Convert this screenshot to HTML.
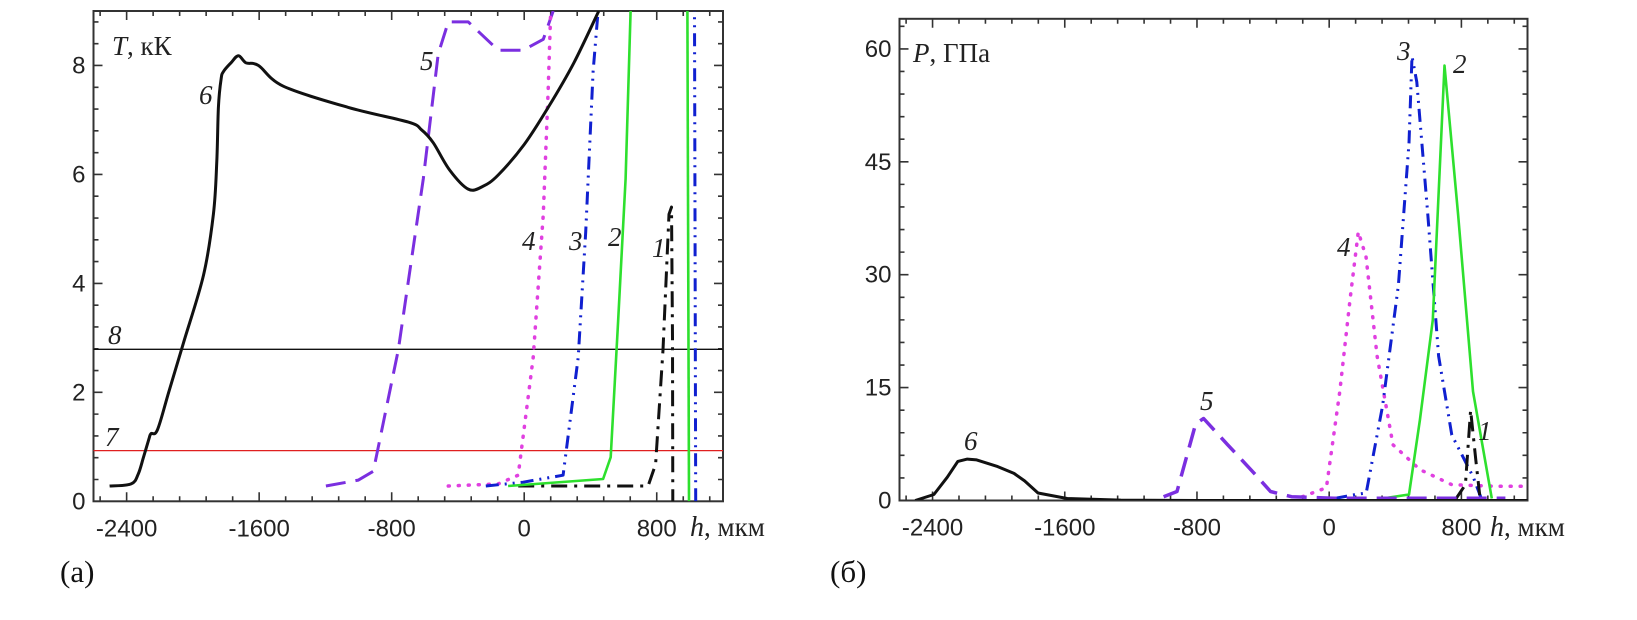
<!DOCTYPE html>
<html><head><meta charset="utf-8">
<style>
html,body{margin:0;padding:0;background:#fff;}
svg{display:block;}
.tk{font-family:"Liberation Sans",sans-serif;font-size:24px;fill:#222;}
.it{font-family:"Liberation Serif",serif;font-style:italic;font-size:27px;fill:#222;}
.sr{font-family:"Liberation Serif",serif;font-size:27px;fill:#222;}
.cap{font-family:"Liberation Serif",serif;font-size:31px;fill:#111;}
</style></head>
<body>
<svg id="fig" width="1637" height="620" viewBox="0 0 1637 620" xmlns="http://www.w3.org/2000/svg">
<g id="chartA"></g>
<g id="chartB"></g>
<text class="cap" x="60" y="582">(a)</text>
<text class="cap" x="830" y="582">(б)</text>
</svg>
<script>
// ---------- data: chart (a) temperature ----------
const xTicks = [-2400, -1600, -800, 0, 800];
const yTicksA = [0, 2, 4, 6, 8];
const yTicksB = [0, 15, 30, 45, 60];
const a6h = [-2503,-2373,-2330,-2298,-2265,-2253,-2214,-2147,-2057,-1936,-1876,-1856,-1846,-1830,-1815,-1770,-1725,-1680,-1604,-1454,-1062,-700,-620,-549,-450,-338,-250,-157,0,145,300,450];
const a6T = [0.28,0.32,0.5,0.81,1.15,1.24,1.31,1.99,2.91,4.15,5.27,6.2,7.23,7.75,7.89,8.05,8.18,8.05,8.0,7.62,7.23,6.96,6.82,6.58,6.08,5.73,5.78,5.99,6.55,7.23,8.05,9.0];
const a5h = [-1197,-1001,-911,-760,-609,-519,-458,-338,-157,-6,115,175];
const a5T = [0.28,0.39,0.55,2.78,5.92,8.21,8.8,8.8,8.28,8.28,8.48,9.0];
const a4h = [-458,-157,-36,54,115,145,160];
const a4T = [0.28,0.32,0.48,2.64,5.27,7.56,9.0];
const a3h = [-232,-6,235,326,371,416,446];
const a3T = [0.28,0.35,0.48,2.64,4.94,7.89,9.0];
const a3bh = [1035,1028];
const a3bT = [0,9];
const a2h = [-97,476,522,567,612,642];
const a2T = [0.28,0.41,0.81,3.3,5.92,9.0];
const a2bh = [995,985];
const a2bT = [0,9];
const a1h = [-36,748,793,838,874,889,895,897];
const a1T = [0.28,0.28,0.68,2.78,5.27,5.4,3.0,0];
const line8T = 2.79;
const line7T = 0.93;
// ---------- data: chart (б) pressure ----------
const b6h = [-2505,-2392,-2311,-2247,-2190,-2133,-2006,-1907,-1843,-1762,-1585,-1261,-800,0,600,1200];
const b6P = [0,0.8,3.1,5.2,5.5,5.4,4.5,3.6,2.6,1.0,0.27,0.05,0,0,0,0];
const b5h = [-1002,-921,-808,-760,-614,-453,-355,-228,30,357,700,1066];
const b5P = [0.5,1.2,10.2,10.9,7.4,3.6,1.2,0.5,0.3,0.3,0.3,0.3];
const b4h = [-162,-17,64,128,176,223,290,386,549,742,1002,1165];
const b4P = [0.5,1.7,14.5,27,35.7,32.4,19.2,7.4,4.1,2.1,1.9,1.9];
const b3h = [31,161,224,323,419,483,501,530,597,662,742,872,920];
const b3P = [0.27,0.8,1.0,12.6,28.6,47.5,59,55.6,38,19.2,8.7,3.1,0.3];
const b2h = [323,483,549,627,698,780,870,984];
const b2P = [0.27,0.8,10.7,24,57.8,38,14.5,0.27];
const b1h = [760,824,856,887,911];
const b1P = [0,2.1,12,5.4,0.7];

const NS = "http://www.w3.org/2000/svg";
function mk(parent, tag, attrs){
  const el = document.createElementNS(NS, tag);
  for (const k in attrs) el.setAttribute(k, attrs[k]);
  parent.appendChild(el);
  return el;
}
function makeAxes(g, L, R, T, B, xmin, xmax, ymin, ymax, yMajor, yMinorStep, yTicks){
  const sx = h => L + (h - xmin) / (xmax - xmin) * (R - L);
  const sy = v => B - (v - ymin) / (ymax - ymin) * (B - T);
  const frame = mk(g, "rect", {x:L, y:T, width:R-L, height:B-T, fill:"none", stroke:"#333", "stroke-width":2});
  
  
  let d = "";
  for (let h = -2560; h <= xmax; h += 160) {
    const x = sx(h);
    if (x < L + 1 || x > R - 1) continue;
    const len = (h % 800 === 0) ? 9 : 5;
    d += `M${x},${B}v${-len}M${x},${T}v${len}`;
  }
  for (let v = ymin; v <= ymax + 1e-6; v += yMinorStep) {
    const y = sy(v);
    if (y < T + 1 || y > B - 1) continue;
    const isMaj = Math.abs(v / yMajor - Math.round(v / yMajor)) < 1e-6;
    const len = isMaj ? 9 : 5;
    d += `M${L},${y}h${len}M${R},${y}h${-len}`;
  }
  const ticks = mk(g, "path", {d:d, stroke:"#333", "stroke-width":1.6, fill:"none"});
  
  
  xTicks.forEach(h => {
    const t = mk(g, "text", {x:sx(h), y:B+35, "text-anchor":"middle", class:"tk"});
    t.textContent = h;
    
    
  });
  yTicks.forEach(v => {
    const t = mk(g, "text", {x:L-8, y:sy(v)+8, "text-anchor":"end", class:"tk"});
    t.textContent = v;
    
    
  });
  return {sx, sy};
}
function series(g, ax, xs, ys, color, w, dash, name, smooth){
  const P = xs.map((h, i) => [ax.sx(h), ax.sy(ys[i])]);
  let d = "M" + P[0][0].toFixed(1) + "," + P[0][1].toFixed(1);
  for (let i = 1; i < P.length; i++) {
    if (smooth) {
      const p0 = P[i-2] || P[i-1], p1 = P[i-1], p2 = P[i], p3 = P[i+1] || P[i];
      const c1 = [p1[0] + (p2[0]-p0[0])/6, p1[1] + (p2[1]-p0[1])/6];
      const c2 = [p2[0] - (p3[0]-p1[0])/6, p2[1] - (p3[1]-p1[1])/6];
      d += `C${c1[0].toFixed(1)},${c1[1].toFixed(1)} ${c2[0].toFixed(1)},${c2[1].toFixed(1)} ${p2[0].toFixed(1)},${p2[1].toFixed(1)}`;
    } else d += "L" + P[i][0].toFixed(1) + "," + P[i][1].toFixed(1);
  }
  const p = mk(g, "path", {d:d, fill:"none", stroke:color, "stroke-width":w, "stroke-linejoin":"round", "stroke-linecap": dash && dash.startsWith("1 ") ? "round" : "butt"});
  if (dash) p.setAttribute("stroke-dasharray", dash);
  
  
}
function label(g, x, y, txt, cls, name){
  const t = mk(g, "text", {x:x, y:y, class:cls});
  t.textContent = txt;
  
  
  return t;
}
const C5 = "#7b2fe0", C4 = "#e040e0", C3 = "#1020d0", C2 = "#2ee02e";
const D5 = "20 10", D4 = "1 9", D3 = "13 6 2 6 2 6", D1 = "16 7 3 7";

// ---- chart (a)
const gA = document.getElementById("chartA");
const clipA = mk(gA, "clipPath", {id:"cA"}); mk(clipA, "rect", {x:93.5, y:11, width:629.5, height:490.3});
const axA = makeAxes(gA, 93.5, 723, 11, 501.3, -2600, 1200, 0, 9, 2, 0.4, yTicksA);
const pA = mk(gA, "g", {"clip-path":"url(#cA)"});


series(pA, axA, [-2600,1200], [line8T,line8T], "#111", 1.3, null, "line-8");
series(pA, axA, [-2600,1200], [line7T,line7T], "#e02020", 1.3, null, "line-7");
series(pA, axA, a5h, a5T, C5, 3, D5, "curve-5");
series(pA, axA, a4h, a4T, C4, 3.5, D4, "curve-4");
series(pA, axA, a3h, a3T, C3, 3, D3, "curve-3");
series(pA, axA, a3bh, a3bT, C3, 3, D3, "curve-3-front");
series(pA, axA, a1h, a1T, "#111", 3, D1, "curve-1");
series(pA, axA, a2h, a2T, C2, 2.6, null, "curve-2");
series(pA, axA, a2bh, a2bT, C2, 2.6, null, "curve-2-front");
series(pA, axA, a6h, a6T, "#111", 3, null, "curve-6", true);
const tA = label(gA, 112, 55, "", "sr", "y-axis-title-a");
tA.innerHTML = '<tspan font-style="italic">T</tspan>, кК';
label(gA, 199, 104, "6", "it", "label-6");
label(gA, 420, 70, "5", "it", "label-5");
label(gA, 522, 250, "4", "it", "label-4");
label(gA, 569, 250, "3", "it", "label-3");
label(gA, 608, 246, "2", "it", "label-2");
label(gA, 652, 257, "1", "it", "label-1");
label(gA, 108, 344, "8", "it", "label-8");
label(gA, 105, 446, "7", "it", "label-7");
const xtA = label(gA, 690, 536, "", "sr", "x-axis-title-a");
xtA.innerHTML = '<tspan font-style="italic" font-size="28">h</tspan>, мкм';

// ---- chart (б)
const gB = document.getElementById("chartB");
const clipB = mk(gB, "clipPath", {id:"cB"}); mk(clipB, "rect", {x:899.5, y:18.8, width:628, height:481.2});
const axB = makeAxes(gB, 899.5, 1527.5, 18.8, 500.5, -2600, 1200, 0, 64, 15, 3, yTicksB);
const pB = mk(gB, "g", {"clip-path":"url(#cB)"});


series(pB, axB, b4h, b4P, C4, 3.5, D4, "curve-4");
series(pB, axB, b3h, b3P, C3, 3, D3, "curve-3");
series(pB, axB, b2h, b2P, C2, 2.6, null, "curve-2");
series(pB, axB, b1h, b1P, "#111", 3, D1, "curve-1");
series(pB, axB, b5h, b5P, C5, 3.5, D5, "curve-5");
series(pB, axB, b6h, b6P, "#111", 3, null, "curve-6");
const tB = label(gB, 913, 62, "", "sr", "y-axis-title-b");
tB.innerHTML = '<tspan font-style="italic">P</tspan>, ГПа';
label(gB, 964, 450, "6", "it", "label-6");
label(gB, 1200, 410, "5", "it", "label-5");
label(gB, 1337, 256, "4", "it", "label-4");
label(gB, 1397, 60, "3", "it", "label-3");
label(gB, 1453, 73, "2", "it", "label-2");
label(gB, 1478, 440, "1", "it", "label-1");
const xtB = label(gB, 1490, 536, "", "sr", "x-axis-title-b");
xtB.innerHTML = '<tspan font-style="italic" font-size="28">h</tspan>, мкм';
</script>
</body></html>
